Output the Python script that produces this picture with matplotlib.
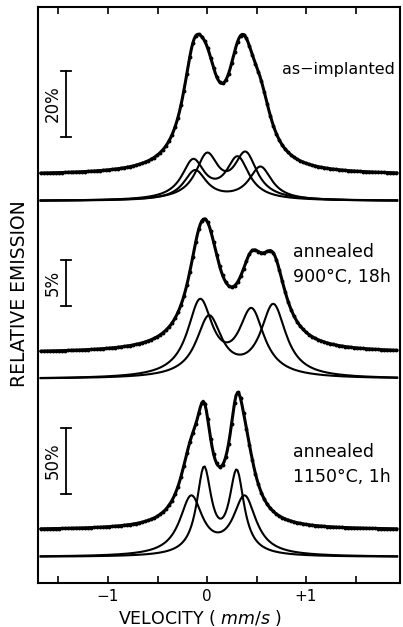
import numpy as np
import matplotlib
matplotlib.use("Agg")
import matplotlib.pyplot as plt

# velocity channels (mm/s)
velocity = np.linspace(-1.68, 1.92, 240)

# fitted doublets per spectrum: line positions (mm/s), line heights (% emission), HWHM (mm/s)
implanted_pos = [(-0.14, 0.31), (0.00, 0.39), (-0.12, 0.54)]
implanted_amp = [(16.0, 17.2), (18.0, 18.5), (12.3, 13.8)]
implanted_hwhm = [0.14, 0.14, 0.14]

annealed900_pos = [(-0.07, 0.45), (0.02, 0.67)]
annealed900_amp = [(8.15, 7.07), (6.52, 7.83)]
annealed900_hwhm = [0.155, 0.155]

annealed1150_pos = [(-0.03, 0.30), (-0.16, 0.38)]
annealed1150_amp = [(64.5, 62.0), (44.0, 44.0)]
annealed1150_hwhm = [0.09, 0.14]

labels = ["as\u2212implanted", ["annealed", "900\u00b0C, 18h"], ["annealed", "1150\u00b0C, 1h"]]
scale_bars = [20, 5, 50]  # percent

# layout (axis units are ~pixels from the bottom spine)
px_per_pct = [3.3, 9.2, 1.32]
data_base = [408, 230, 53]
comp_base = [382, 204, 26]
comp_gain = [0.73, 1.0, 1.0]
bar_bottom = [446, 277, 89]


def doublet(v, pos, amp, g):
    out = np.zeros_like(v)
    for c, a in zip(pos, amp):
        out += a / (1.0 + ((v - c) / g) ** 2)
    return out


spectra = [
    (implanted_pos, implanted_amp, implanted_hwhm),
    (annealed900_pos, annealed900_amp, annealed900_hwhm),
    (annealed1150_pos, annealed1150_amp, annealed1150_hwhm),
]

fig = plt.figure(figsize=(4.03, 6.27), dpi=100)
ax = fig.add_axes([38 / 403, 44 / 627, 362 / 403, 576 / 627])

for k, (pos, amp, hw) in enumerate(spectra):
    comps = [doublet(velocity, p, a, g) for p, a, g in zip(pos, amp, hw)]
    total = np.sum(comps, axis=0)
    s = px_per_pct[k]
    ax.plot(velocity, data_base[k] + s * total, color="black", lw=2.2,
            marker="o", ms=1.8, markevery=2, solid_capstyle="round")
    for c in comps:
        ax.plot(velocity, comp_base[k] + comp_gain[k] * s * c, color="black", lw=1.5)

    # scale bar
    xb = -1.42
    y0 = bar_bottom[k]
    y1 = y0 + scale_bars[k] * s
    ax.plot([xb, xb], [y0, y1], color="black", lw=1.3)
    ax.plot([xb - 0.05, xb + 0.05], [y0, y0], color="black", lw=1.3)
    ax.plot([xb - 0.05, xb + 0.05], [y1, y1], color="black", lw=1.3)
    ax.text(-1.555, (y0 + y1) / 2, f"{scale_bars[k]}%", rotation=90,
            ha="center", va="center", fontsize=12)

# sample labels
ax.text(0.76, 509, labels[0], fontsize=11.5, va="baseline", ha="left")
ax.text(0.87, 326, labels[1][0], fontsize=12.5, va="baseline", ha="left")
ax.text(0.87, 301, labels[1][1], fontsize=12.5, va="baseline", ha="left")
ax.text(0.87, 126, labels[2][0], fontsize=12.5, va="baseline", ha="left")
ax.text(0.87, 101, labels[2][1], fontsize=12.5, va="baseline", ha="left")

ax.set_xlim(-1.707, 1.949)
ax.set_ylim(0, 576)
ax.set_yticks([])
ax.set_xticks([-1, 0, 1])
ax.set_xticklabels(["\u22121", "0", "+1"], fontsize=11)
ax.set_xticks([-1.5, -0.5, 0.5, 1.5], minor=True)
ax.tick_params(axis="x", which="both", direction="in", top=True, length=5, width=1.2, pad=4)
for sp in ax.spines.values():
    sp.set_linewidth(1.5)

fig.text(20 / 403, 1 - 294 / 627, "RELATIVE EMISSION", rotation=90,
         ha="center", va="center", fontsize=13.5)
fig.text(200 / 403, 1 - 624 / 627, r"VELOCITY ( $\it{mm/s}$ )",
         ha="center", va="baseline", fontsize=12.5)

fig.savefig("out.png", dpi=100)
